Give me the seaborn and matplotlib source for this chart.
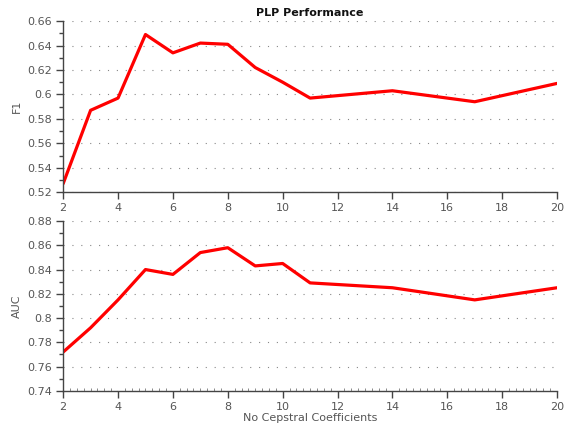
import matplotlib
matplotlib.use("Agg")
import matplotlib.pyplot as plt
import seaborn as sns
import pandas as pd
from matplotlib.ticker import MultipleLocator

n_coeffs = [2, 3, 4, 5, 6, 7, 8, 9, 10, 11, 14, 17, 20]
f1_values = [0.527, 0.587, 0.597, 0.649, 0.634, 0.642, 0.641, 0.622, 0.610, 0.597, 0.603, 0.594, 0.609]
auc_values = [0.772, 0.792, 0.815, 0.840, 0.836, 0.854, 0.858, 0.843, 0.845, 0.829, 0.825, 0.815, 0.825]
x_ticks = [2, 4, 6, 8, 10, 12, 14, 16, 18, 20]

df = pd.DataFrame({"n": n_coeffs, "F1": f1_values, "AUC": auc_values})

sns.set_style("white")
plt.rcParams["font.family"] = ["DejaVu Sans"]

fig = plt.figure(figsize=(5.69, 4.30), dpi=100)
ax1 = fig.add_axes([0.111, 0.553, 0.868, 0.398])
ax2 = fig.add_axes([0.111, 0.091, 0.868, 0.395])

txt = "#555555"
spine_c = "#444444"

def fmt(v):
    s = "%.2f" % v
    if s.endswith("0"):
        s = s.rstrip("0").rstrip(".")
    return s

def style(ax, ylim, ystep, ylabel, xminor):
    ax.set_xlim(2, 20)
    ax.set_ylim(*ylim)
    ax.set_xticks(x_ticks)
    ax.yaxis.set_major_locator(MultipleLocator(ystep))
    ax.yaxis.set_minor_locator(MultipleLocator(ystep / 2))
    ax.set_ylabel(ylabel, fontsize=8, color=txt)
    for s in ["top", "right"]:
        ax.spines[s].set_visible(False)
    for s in ["left", "bottom"]:
        ax.spines[s].set_color(spine_c)
        ax.spines[s].set_linewidth(1.0)
    ax.tick_params(axis="both", which="major", direction="out", length=5,
                   width=1, color=spine_c, labelsize=8, labelcolor=txt, pad=3,
                   bottom=True, left=True)
    ax.tick_params(axis="y", which="minor", direction="out", length=3,
                   width=1, color=spine_c, left=True)
    if xminor:
        ax.xaxis.set_minor_locator(MultipleLocator(0.25))
        ax.tick_params(axis="x", which="minor", direction="in", length=2,
                       width=0.6, color="#777777", bottom=True)
    ax.yaxis.grid(True, which="major", linestyle=(0, (1, 7)), color="#888888", linewidth=0.8)
    ax.xaxis.grid(False)
    ax.set_axisbelow(True)
    ax.set_yticklabels([fmt(v) for v in ax.get_yticks()])

sns.lineplot(data=df, x="n", y="F1", ax=ax1, color="#ff0000", linewidth=2.3)
sns.lineplot(data=df, x="n", y="AUC", ax=ax2, color="#ff0000", linewidth=2.3)

style(ax1, (0.52, 0.66), 0.02, "F1", False)
style(ax2, (0.74, 0.88), 0.02, "AUC", True)
ax1.set_xlabel("")
ax2.set_xlabel("No Cepstral Coefficients", fontsize=8, color=txt, labelpad=1)
ax1.set_title("PLP Performance", fontsize=8, fontweight="bold", color="#111111", pad=4)

fig.savefig("out.png", dpi=100)
